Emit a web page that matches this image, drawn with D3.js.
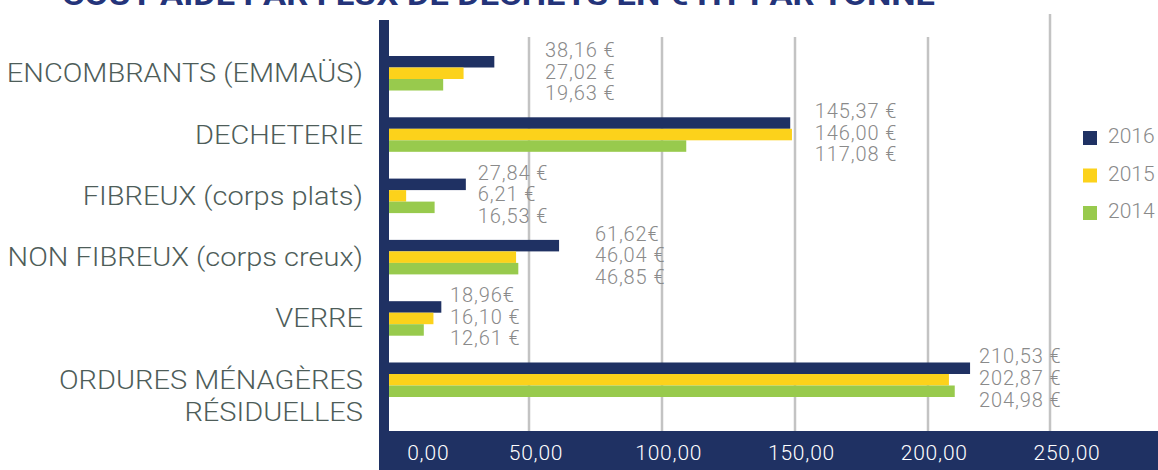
<!DOCTYPE html>
<html>
<head>
<meta charset="utf-8">
<script src="https://cdn.jsdelivr.net/npm/d3@7"></script>
<style>
  html, body { margin: 0; padding: 0; background: #ffffff; }
  svg { display: block; }
</style>
</head>
<body>
<svg id="chart" width="1158" height="470"></svg>
<script>
// ---- DATA ----
const title = "COÛT AIDÉ PAR FLUX DE DÉCHETS EN € HT PAR TONNE";
const categories = [
  "ENCOMBRANTS (EMMAÜS)",
  "DECHETERIE",
  "FIBREUX (corps plats)",
  "NON FIBREUX (corps creux)",
  "VERRE",
  "ORDURES MÉNAGÈRES|RÉSIDUELLES"
];
const seriesNames = ["2016", "2015", "2014"];
const values2016 = [38.16, 145.37, 27.84, 61.62, 18.96, 210.53];
const values2015 = [27.02, 146.00, 6.21, 46.04, 16.10, 202.87];
const values2014 = [19.63, 107.7, 16.53, 46.85, 12.61, 204.98];
const labels2016 = ["38,16 €", "145,37 €", "27,84 €", "61,62€", "18,96€", "210,53 €"];
const labels2015 = ["27,02 €", "146,00 €", "6,21 €", "46,04 €", "16,10 €", "202,87 €"];
const labels2014 = ["19,63 €", "117,08 €", "16,53 €", "46,85 €", "12,61 €", "204,98 €"];
const tickValues = [0, 50, 100, 150, 200, 250];
const tickLabels = ["0,00", "50,00", "100,00", "150,00", "200,00", "250,00"];

// ---- STYLE / LAYOUT ----
const colors = { "2016": "#1f3163", "2015": "#fcd21b", "2014": "#98ca4d" };
const navy = "#1f3163";
const gridColor = "#c3c3c3";
const labelGray = "#8a8a8a";
const catColor = "#4e5d59";
const FONT = "Roboto, 'DejaVu Sans', sans-serif";
const labelAnchor = [56.5, 154.3, 32.2, 74.6, 22.1, 213.8]; // label start, in value units

const svg = d3.select("#chart");
const seriesValues = [values2016, values2015, values2014];
const seriesLabels = [labels2016, labels2015, labels2014];

const x = d3.scaleLinear().domain([0, 250]).range([389, 1079]);
const y = d3.scaleBand().domain(categories).range([56, 397]).paddingInner(0.437).paddingOuter(0);
const ySub = d3.scaleBand().domain(seriesNames).range([0, y.bandwidth()]);
const gridX = d3.scaleLinear().domain([50, 200]).range([529, 928]);
const tickX = d3.scaleLinear().domain([50, 250]).range([536, 1067]);

// title (cut off at top)
svg.append("text")
  .attr("x", 62).attr("y", 5)
  .attr("font-family", FONT).attr("font-weight", 700).attr("font-size", 30)
  .attr("fill", "#24347a")
  .attr("textLength", 873).attr("lengthAdjust", "spacingAndGlyphs")
  .text(title);

// gridlines
svg.append("g").selectAll("line")
  .data(tickValues.filter(t => t > 0 && t < 250))
  .join("line")
  .attr("x1", d => gridX(d)).attr("x2", d => gridX(d))
  .attr("y1", 37).attr("y2", 431)
  .attr("stroke", gridColor).attr("stroke-width", 2.5);
// legend divider line
svg.append("line")
  .attr("x1", 1050).attr("x2", 1050).attr("y1", 14).attr("y2", 431)
  .attr("stroke", gridColor).attr("stroke-width", 2.5);

// bars
const groups = svg.append("g").selectAll("g")
  .data(categories)
  .join("g")
  .attr("transform", d => `translate(0,${y(d)})`);

groups.each(function(cat, ci) {
  const g = d3.select(this);
  seriesNames.forEach((s, si) => {
    g.append("rect")
      .attr("x", x(0))
      .attr("y", ySub(s))
      .attr("width", x(seriesValues[si][ci]) - x(0))
      .attr("height", ySub.bandwidth())
      .attr("fill", colors[s]);
  });
  // value labels
  seriesNames.forEach((s, si) => {
    g.append("text")
      .attr("x", x(labelAnchor[ci]))
      .attr("y", 1 + si * 21.6)
      .attr("font-family", FONT).attr("font-weight", 300).attr("font-size", 20)
      .attr("letter-spacing", 0.9)
      .attr("fill", labelGray)
      .text(seriesLabels[si][ci]);
  });
  // category labels (wide geometric look: horizontally stretched)
  const lines = cat.split("|");
  const t = g.append("text")
    .attr("transform", `translate(363,${y.bandwidth() / 2 + 9}) scale(1.16,1)`)
    .attr("text-anchor", "end")
    .attr("font-family", FONT).attr("font-weight", 300).attr("font-size", 25)
    .attr("fill", catColor);
  lines.forEach((ln, li) => {
    t.append("tspan").attr("x", 0).attr("dy", li === 0 ? 0 : 32).text(ln);
  });
});

// vertical axis bar
svg.append("rect").attr("x", 379).attr("y", 20).attr("width", 10).attr("height", 411).attr("fill", navy);
// bottom band
svg.append("rect").attr("x", 379).attr("y", 431).attr("width", 1158 - 379).attr("height", 39).attr("fill", navy);

// bottom tick labels
svg.append("g").selectAll("text")
  .data(tickValues)
  .join("text")
  .attr("x", (d, i) => i === 0 ? tickX(d) + 25 : tickX(d))
  .attr("y", 460)
  .attr("text-anchor", "middle")
  .attr("font-family", FONT).attr("font-weight", 300).attr("font-size", 21)
  .attr("letter-spacing", 0.8)
  .attr("fill", "#ffffff")
  .text((d, i) => tickLabels[i]);

// legend
const legend = svg.append("g").selectAll("g")
  .data(seriesNames)
  .join("g")
  .attr("transform", (d, i) => `translate(1083,${131 + i * 37.5})`);
legend.append("rect").attr("width", 14).attr("height", 14).attr("fill", d => colors[d]);
legend.append("text")
  .attr("x", 25).attr("y", 12)
  .attr("font-family", FONT).attr("font-weight", 300).attr("font-size", 21)
  .attr("fill", labelGray)
  .text(d => d);
</script>
</body>
</html>
